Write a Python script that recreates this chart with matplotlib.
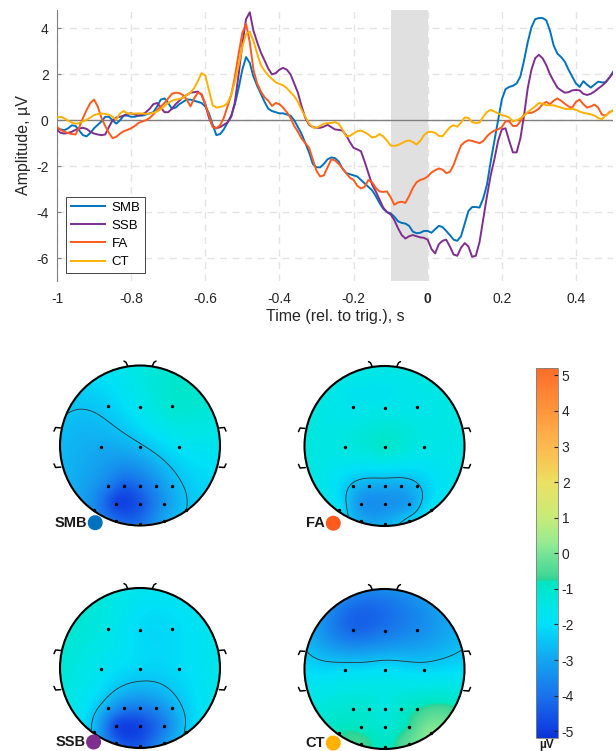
import numpy as np
import matplotlib
matplotlib.use('Agg')
import matplotlib.pyplot as plt
from matplotlib.colors import LinearSegmentedColormap, Normalize
from matplotlib.cm import ScalarMappable
from matplotlib.patches import Circle

plt.rcParams['font.family'] = ['Liberation Sans', 'DejaVu Sans']
plt.rcParams['axes.unicode_minus'] = False

# --- ERP data: time grid (10 ms steps) and one value per sample, µV ---
time = np.linspace(-1.0, 0.5, 151)

smb = [-0.36, -0.40, -0.43, -0.35, -0.22, -0.25, -0.45, -0.65, -0.70, -0.55,
       -0.35, -0.20, -0.05, 0.15, 0.15, 0.00, -0.15, 0.00, 0.20, 0.20,
       0.15, 0.15, 0.20, 0.20, 0.25, 0.30, 0.35, 0.60, 0.90, 0.95,
       0.75, 0.50, 0.55, 0.70, 0.80, 0.90, 0.90, 0.85, 0.80, 0.75,
       0.60, 0.30, -0.20, -0.65, -0.60, -0.40, -0.10, 0.20, 0.70, 1.40,
       2.20, 2.75, 2.50, 1.90, 1.50, 1.15, 0.80, 0.50, 0.40, 0.35,
       0.30, 0.30, 0.25, 0.20, 0.00, -0.30, -0.60, -1.00, -1.40, -1.90,
       -2.05, -2.05, -1.90, -1.70, -1.62, -1.65, -1.80, -2.10, -2.30, -2.35,
       -2.40, -2.45, -2.60, -2.75, -2.90, -3.05, -3.30, -3.60, -3.85, -4.00,
       -4.05, -4.20, -4.40, -4.47, -4.50, -4.60, -4.85, -4.92, -4.90, -4.82,
       -4.82, -4.90, -4.75, -4.60, -4.65, -4.82, -5.00, -5.20, -5.25, -5.05,
       -4.50, -3.95, -3.78, -3.78, -3.80, -3.40, -2.80, -1.80, -0.90, 0.00,
       0.90, 1.35, 1.45, 1.50, 1.60, 1.90, 2.60, 3.40, 4.05, 4.40,
       4.45, 4.45, 4.35, 3.90, 3.25, 2.90, 2.75, 2.55, 2.20, 1.90,
       1.60, 1.45, 1.70, 1.55, 1.42, 1.55, 1.68, 1.65, 1.65, 1.85,
       2.10]

ssb = [-0.43, -0.55, -0.58, -0.55, -0.50, -0.42, -0.36, -0.33, -0.38, -0.50,
       -0.58, -0.62, -0.65, -0.62, -0.30, 0.00, 0.12, 0.15, 0.20, 0.28,
       0.30, 0.25, 0.20, 0.25, 0.35, 0.50, 0.70, 0.75, 0.55, 0.35,
       0.35, 0.50, 0.70, 0.85, 1.00, 1.10, 1.20, 1.22, 1.25, 1.10,
       0.70, 0.10, -0.25, -0.35, -0.30, -0.20, -0.10, 0.15, 0.80, 2.00,
       3.30, 4.40, 4.70, 3.90, 3.40, 2.95, 2.60, 2.25, 2.00, 2.05,
       2.20, 2.28, 2.20, 2.00, 1.60, 1.20, 0.60, 0.10, -0.20, -0.30,
       -0.33, -0.33, -0.28, -0.20, -0.30, -0.40, -0.42, -0.45, -0.65, -0.95,
       -1.20, -1.27, -1.35, -1.80, -2.30, -2.80, -3.10, -3.45, -3.80, -4.00,
       -4.10, -4.35, -4.70, -5.00, -5.15, -5.05, -5.00, -5.05, -5.10, -5.12,
       -5.20, -5.60, -5.80, -5.40, -5.25, -5.20, -5.50, -5.85, -5.90, -5.55,
       -5.35, -5.50, -5.95, -5.90, -5.30, -4.30, -3.30, -2.40, -1.70, -0.90,
       -0.40, -0.35, -0.90, -1.40, -1.40, -0.80, 0.20, 1.40, 2.20, 2.70,
       2.85, 2.70, 2.40, 2.00, 1.70, 1.42, 1.30, 1.20, 1.22, 1.30,
       1.32, 1.30, 1.15, 1.10, 1.15, 1.25, 1.38, 1.50, 1.65, 1.85,
       2.05]

fa = [-0.29, -0.42, -0.50, -0.56, -0.60, -0.62, -0.30, 0.10, 0.45, 0.75,
      0.90, 0.60, 0.10, -0.25, -0.55, -0.78, -0.72, -0.58, -0.48, -0.42,
      -0.35, -0.25, -0.12, -0.05, 0.00, 0.10, 0.25, 0.45, 0.60, 0.75,
      0.95, 1.15, 1.20, 1.18, 1.10, 0.90, 0.60, 0.95, 1.20, 1.15,
      0.70, 0.20, -0.30, -0.35, -0.22, 0.10, 0.60, 1.10, 1.90, 2.90,
      3.80, 4.20, 3.40, 2.20, 1.60, 1.25, 1.00, 0.85, 0.62, 0.75,
      0.70, 0.55, 0.35, 0.10, -0.25, -0.50, -0.80, -1.00, -1.20, -1.70,
      -2.20, -2.45, -2.40, -2.05, -1.70, -1.75, -1.90, -2.10, -2.30, -2.50,
      -2.60, -2.85, -2.97, -2.90, -2.60, -2.70, -2.95, -3.10, -3.12, -3.10,
      -3.35, -3.68, -3.58, -3.55, -3.60, -3.30, -2.95, -2.70, -2.60, -2.55,
      -2.45, -2.28, -2.18, -2.10, -2.15, -2.30, -2.25, -1.95, -1.50, -1.10,
      -0.95, -0.87, -0.90, -0.95, -1.00, -0.90, -0.70, -0.55, -0.45, -0.40,
      -0.30, -0.05, -0.05, -0.25, -0.25, -0.05, 0.25, 0.32, 0.32, 0.40,
      0.50, 0.70, 0.80, 0.70, 0.85, 0.95, 0.85, 0.72, 0.60, 0.55,
      0.80, 0.90, 0.70, 0.55, 0.60, 0.68, 0.55, 0.25, 0.20, 0.35,
      0.42]

ct = [0.12, 0.15, 0.08, -0.02, -0.10, -0.15, -0.12, -0.05, 0.02, 0.12,
      0.22, 0.27, 0.29, 0.28, 0.24, 0.15, 0.03, 0.30, 0.40, 0.30,
      0.28, 0.29, 0.30, 0.29, 0.28, 0.29, 0.32, 0.38, 0.48, 0.62,
      0.75, 0.85, 0.90, 0.92, 0.98, 1.10, 1.20, 1.40, 1.70, 2.05,
      1.95, 1.30, 0.65, 0.55, 0.58, 0.62, 0.75, 1.10, 1.70, 2.40,
      3.20, 3.75, 3.85, 3.45, 2.90, 2.40, 2.15, 1.95, 1.80, 1.65,
      1.58, 1.52, 1.40, 1.22, 1.05, 0.80, 0.45, 0.15, -0.15, -0.30,
      -0.33, -0.25, -0.15, -0.13, -0.12, -0.08, -0.15, -0.40, -0.70, -0.68,
      -0.58, -0.48, -0.45, -0.52, -0.62, -0.75, -0.72, -0.60, -0.70, -0.88,
      -1.10, -1.12, -1.08, -1.00, -0.92, -0.88, -0.95, -1.06, -0.90, -0.65,
      -0.52, -0.50, -0.55, -0.68, -0.70, -0.50, -0.30, -0.22, -0.28, -0.10,
      0.12, 0.10, -0.08, -0.12, -0.10, 0.15, 0.36, 0.45, 0.38, 0.30,
      0.22, 0.18, 0.12, -0.05, 0.00, 0.08, 0.20, 0.35, 0.48, 0.60,
      0.75, 0.72, 0.66, 0.65, 0.65, 0.60, 0.55, 0.50, 0.48, 0.50,
      0.45, 0.38, 0.32, 0.29, 0.26, 0.20, 0.10, 0.04, 0.20, 0.32,
      0.43]

cond_names = ['SMB', 'SSB', 'FA', 'CT']
cond_colors = ['#0072BD', '#7E2F8E', '#FF5A1E', '#FFB000']

# --- topography data: electrode layout (head radius 1, nose up) ---
elec_x = [-0.40, 0.00, 0.40, -0.49, 0.00, 0.49, -0.40, -0.20, 0.00, 0.20,
          0.40, -0.30, 0.00, 0.30, -0.575, 0.58, -0.30, 0.00, 0.30]
elec_y = [0.49, 0.48, 0.49, -0.015, -0.015, -0.015, -0.50, -0.50, -0.50, -0.50,
          -0.50, -0.73, -0.73, -0.73, -0.80, -0.80, -0.94, -0.98, -0.94]

# mean amplitude in the -0.1..0 s window at each electrode, µV
topo_smb = [-2.3, -1.7, -1.1, -2.9, -2.6, -1.9, -3.7, -4.3, -4.0, -3.4,
            -2.8, -4.8, -4.5, -3.3, -3.5, -2.5, -4.1, -4.0, -3.0]
topo_fa = [-1.7, -1.6, -1.6, -1.4, -1.0, -1.5, -2.6, -2.9, -2.9, -2.9,
           -2.6, -3.3, -3.4, -3.1, -2.0, -1.9, -2.9, -2.8, -2.3]
topo_ssb = [-1.5, -2.1, -2.1, -1.8, -2.2, -2.1, -3.0, -3.7, -3.8, -3.5,
            -2.9, -4.7, -4.8, -3.8, -2.7, -2.4, -4.2, -4.4, -3.3]
topo_ct = [-4.2, -3.9, -3.5, -2.1, -2.0, -2.2, -1.1, -1.1, -1.4, -1.0,
           -0.8, -0.9, -1.1, -0.7, -0.8, 0.2, -0.6, -0.9, -0.3]

# colour scale anchors (value, colour)
cmap_vals = [-5.2, -5.0, -4.0, -3.0, -2.5, -2.0, -1.5, -1.0, -0.8, -0.75,
             -0.6, 0.0, 0.3, 1.0, 2.0, 2.2, 3.0, 4.0, 5.0, 5.2]
cmap_cols = ['#0a32d2', '#0f3ce1', '#1973eb', '#14a5f0', '#0ac3f5', '#00e1f8',
             '#00e6e6', '#00e6cd', '#00e6be', '#28d496', '#46d796', '#78e496',
             '#96eb91', '#c8eb78', '#ebe164', '#f0d75a', '#fcb950', '#ff963c',
             '#ff732d', '#ff6e28']


def v4_interp(ex, ey, vals, gx, gy):
    # biharmonic spline (MATLAB griddata 'v4'), as used by topoplot
    ex, ey, vals = np.asarray(ex), np.asarray(ey), np.asarray(vals)
    d = np.hypot(ex[:, None] - ex[None, :], ey[:, None] - ey[None, :])
    with np.errstate(divide='ignore', invalid='ignore'):
        g = np.where(d > 0, d**2 * (np.log(d) - 1), 0.0)
    w = np.linalg.solve(g, vals)
    dg = np.hypot(gx.ravel()[:, None] - ex[None, :], gy.ravel()[:, None] - ey[None, :])
    with np.errstate(divide='ignore', invalid='ignore'):
        gg = np.where(dg > 0, dg**2 * (np.log(dg) - 1), 0.0)
    return (gg @ w).reshape(gx.shape)


W, H = 616, 751
fig = plt.figure(figsize=(W / 100, H / 100), dpi=100)

# --- ERP panel ---
ax = fig.add_axes([57 / W, 1 - 281 / H, 556 / W, 271 / H])
ax.axvspan(-0.1, 0, color='#e0e0e0', lw=0, zorder=1)
ax.axhline(0, color='#808080', lw=1, zorder=2)
for vals, name, col in zip([smb, ssb, fa, ct], cond_names, cond_colors):
    ax.plot(time, vals, color=col, lw=1.4, label=name, zorder=3)

ax.set_xlim(-1, 0.5)
ax.set_ylim(-7, 4.8)
xt = [-1, -0.8, -0.6, -0.4, -0.2, 0, 0.2, 0.4]
ax.set_xticks(xt)
ax.set_xticklabels(['-1', '-0.8', '-0.6', '-0.4', '-0.2', '0', '0.2', '0.4'])
ax.get_xticklabels()[5].set_fontweight('bold')
ax.set_yticks([-6, -4, -2, 0, 2, 4])
ax.grid(True, ls=(0, (5, 4)), color='#e4e4e4', lw=1, zorder=0)
ax.set_axisbelow(True)
for s in ['top', 'right', 'bottom']:
    ax.spines[s].set_visible(False)
ax.spines['left'].set_color('#808080')
ax.tick_params(axis='x', length=0, labelsize=10, colors='#262626', pad=8)
ax.tick_params(axis='y', direction='in', length=3, labelsize=10,
               colors='#262626', pad=6)
ax.tick_params(axis='y', color='#808080')
ax.set_xlabel('Time (rel. to trig.), s', fontsize=11.5, color='#262626', labelpad=2)
ax.set_ylabel('Amplitude, µV', fontsize=11.5, color='#262626', labelpad=4)
leg = ax.legend(loc='lower left', bbox_to_anchor=(0.016, 0.03), borderaxespad=0,
                fontsize=9.5, handlelength=2.6, handletextpad=0.5,
                labelspacing=0.45, borderpad=0.35, fancybox=False, framealpha=1)
leg.get_frame().set_edgecolor('#262626')
leg.get_frame().set_linewidth(0.6)

# --- topographies ---
cmap = LinearSegmentedColormap.from_list(
    'topo', [((v - cmap_vals[0]) / (cmap_vals[-1] - cmap_vals[0]), c)
             for v, c in zip(cmap_vals, cmap_cols)], N=512)
norm = Normalize(vmin=-5.2, vmax=5.2)

panels = [('SMB', topo_smb, cond_colors[0], (140, 445.5), -0.56, -0.965),
          ('FA', topo_fa, cond_colors[2], (384.5, 446), -0.64, -0.965),
          ('SSB', topo_ssb, cond_colors[1], (140, 668), -0.58, -0.925),
          ('CT', topo_ct, cond_colors[3], (384.5, 669), -0.64, -0.925)]

g = np.linspace(-1, 1, 241)
gx, gy = np.meshgrid(g, g)
outside = np.hypot(gx, gy) > 1.0
half = 96

for name, vals, col, (cx, cy), dot_x, lab_y in panels:
    hx = fig.add_axes([(cx - half) / W, 1 - (cy + half) / H, 2 * half / W, 2 * half / H])
    hx.set_xlim(-1.2, 1.2)
    hx.set_ylim(-1.2, 1.2)
    hx.set_aspect('equal')
    hx.axis('off')

    z = v4_interp(elec_x, elec_y, vals, gx, gy)
    z = np.ma.masked_where(outside, z)
    im = hx.imshow(z, extent=(-1, 1, -1, 1), origin='lower', cmap=cmap,
                   norm=norm, interpolation='bilinear')
    im.set_clip_path(Circle((0, 0), 1.0, transform=hx.transData))
    hx.contour(gx, gy, z, levels=[-2.5], colors='#303030', linewidths=0.6,
               linestyles='solid')

    hx.add_patch(Circle((0, 0), 1.0, fill=False, lw=1.5, ec='k'))
    # nose and ear hooks
    for sx in (-1, 1):
        hx.plot(sx * np.array([0.20, 0.175, 0.155]), [1.055, 1.04, 0.995],
                color='k', lw=1.1, solid_capstyle='round')
        hx.plot(sx * np.array([0.995, 1.055, 1.075]), [0.22, 0.225, 0.18],
                color='k', lw=1.1, solid_capstyle='round')
        hx.plot(sx * np.array([0.99, 1.055, 1.075]), [-0.27, -0.275, -0.23],
                color='k', lw=1.1, solid_capstyle='round')
    hx.scatter(elec_x, elec_y, s=6, c='k', lw=0, zorder=5)

    hx.text(dot_x - 0.1, lab_y, name, ha='right', va='center', fontsize=10.5,
            fontweight='bold', color='#1a1a1a')
    hx.add_patch(Circle((dot_x, lab_y), 0.085, color=col, zorder=6, clip_on=False))

# --- colour bar ---
cax = fig.add_axes([536 / W, 1 - 738.3 / H, 21.7 / W, 370 / H])
cb = fig.colorbar(ScalarMappable(norm=norm, cmap=cmap), cax=cax, ticks=range(-5, 6))
cb.outline.set_linewidth(0.6)
cb.outline.set_edgecolor('#808080')
cax.tick_params(direction='in', length=3, labelsize=10, colors='#262626', pad=3)
fig.text(546.7 / W, 1 - 745 / H, 'µV', ha='center', va='center', fontsize=8.5,
         fontweight='bold', color='#1a1a1a')

fig.savefig('out.png', dpi=100)
